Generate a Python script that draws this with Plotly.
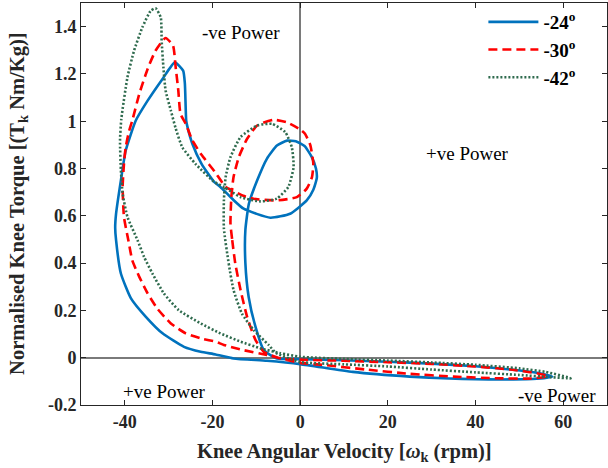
import plotly.graph_objects as go

# ---- data ----
series_names = ["<b>-24<sup>o</sup></b>", "<b>-30<sup>o</sup></b>", "<b>-42<sup>o</sup></b>"]

x_24 = [-12.5, -12.5, -11.75, -10.2, -8.3, -5.3,
        0, 10, 20, 30, 40, 48, 54, 57.5,
        54, 46, 40, 34, 25, 12, 0, -7.6, -15.2, -19.3, -22.7, -26.5, -31.4, -35.2, -38.6, -40.9, -42.0, -42.2, -42.0,
        -40.9, -39.8, -37.5, -34.8, -31.4, -28.6, -26.7, -26.3, -26.0, -25.7, -24.6, -22.5, -19.7, -18.2, -15.5, -12.9,
        -6.8, -2.3, 1.5, 3.0, 3.8, 3.6, 2.6, 1.0, -1.0, -3.0, -5.3, -7.6, -9.8, -11.7, -12.5]
y_24 = [0.54, 0.40, 0.257, 0.131, 0.032, -0.003,
        -0.006, -0.011, -0.017, -0.025, -0.036, -0.05, -0.064, -0.08,
        -0.089, -0.092, -0.091, -0.088, -0.08, -0.06, -0.027, -0.013, -0.003, 0.014, 0.025, 0.046, 0.103, 0.173, 0.251, 0.356, 0.497, 0.55, 0.609,
        0.75, 0.876, 1.003, 1.087, 1.179, 1.249, 1.214, 1.158, 1.003, 0.975, 0.905, 0.82, 0.745, 0.722, 0.672, 0.63,
        0.592, 0.609, 0.665, 0.71, 0.76, 0.80, 0.85, 0.895, 0.915, 0.918, 0.897, 0.841, 0.75, 0.651, 0.54]

x_30 = [-15.9, -15.5, -14.8, -13.6, -12.1, -10.2, -8.3, -4.5,
        0, 10, 20, 30, 40, 48, 54, 56.5,
        53, 45, 35, 25, 15, 5, 0, -3.0, -7.6, -12.9, -17.4, -19.3, -22.3, -26.1, -29.5, -32.6, -34.8, -36.7, -38.3, -39.2,
        -40.2, -40.5, -40.2, -39.8, -39.0, -38.3, -36.7, -34.8, -33.0, -30.7, -29.0, -28.4, -27.8, -27.3, -26.1, -24.6,
        -22.5, -19.5, -17.0, -15.5, -13.0, -10.6, -5.3, -0.75, 1.5, 2.7, 3.0, 2.3, 1.1, 0, -3.0, -6.1, -9.8, -12.1,
        -14.0, -15.2, -15.7, -15.9]
y_30 = [0.567, 0.497, 0.398, 0.286, 0.173, 0.075, 0.025, -0.003,
        -0.008, -0.013, -0.019, -0.026, -0.037, -0.05, -0.066, -0.078,
        -0.088, -0.087, -0.08, -0.068, -0.05, -0.03, -0.022, -0.01, 0.011, 0.032, 0.054, 0.068, 0.08, 0.103, 0.145, 0.208, 0.272, 0.342, 0.412, 0.497,
        0.595, 0.722, 0.82, 0.89, 0.961, 1.003, 1.116, 1.221, 1.298, 1.352, 1.319, 1.228, 1.13, 1.031, 0.989, 0.919,
        0.858, 0.787, 0.722, 0.708, 0.685, 0.672, 0.665, 0.679, 0.715, 0.764, 0.82, 0.9, 0.947, 0.965, 0.995, 1.006, 0.982, 0.926,
        0.848, 0.764, 0.679, 0.567]

x_42 = [-17.4, -16.3, -15.2, -13.3, -10.6, -7.2, -5.5,
        0, 10, 20, 30, 40, 50, 57, 61.7,
        56, 50, 40, 30, 20, 10, 0, -4.5, -9.1, -13.6, -18.2, -22.7, -27.7, -31.1, -33.7, -35.6, -37.1, -39.4,
        -40.5, -40.9, -41.1, -40.8, -39.4, -37.9, -36.0, -34.1, -33.0, -31.8, -31.6, -31.2, -30.7, -29.5, -28.4, -26.9,
        -23.9, -19.7, -17.4, -13.6, -9.1, -5.3, -2.7, -1.5, -1.9, -3.4, -6.4, -9.8, -13.6, -15.9, -17.0, -17.4, -17.4]
y_42 = [0.546, 0.398, 0.286, 0.187, 0.117, 0.054, 0.02,
        -0.018, -0.028, -0.037, -0.05, -0.062, -0.073, -0.082, -0.087,
        -0.06, -0.045, -0.03, -0.02, -0.012, -0.005, 0.004, 0.019, 0.04, 0.068, 0.103, 0.145, 0.201, 0.272, 0.356, 0.426, 0.497, 0.595,
        0.694, 0.792, 0.919, 1.01, 1.186, 1.298, 1.397, 1.467, 1.478, 1.439, 1.341, 1.228, 1.13, 1.045, 0.97, 0.89,
        0.82, 0.745, 0.722, 0.679, 0.661, 0.673, 0.722, 0.806, 0.89, 0.954, 0.989, 0.982, 0.933, 0.848, 0.764, 0.665, 0.546]

x_ticks = [-40, -20, 0, 20, 40, 60]
y_ticks = [-0.2, 0, 0.2, 0.4, 0.6, 0.8, 1.0, 1.2, 1.4]
y_tick_labels = ["-0.2", "0", "0.2", "0.4", "0.6", "0.8", "1", "1.2", "1.4"]

region_labels = ["-ve Power", "+ve Power", "+ve Power", "-ve Power"]
region_x = [-13.45, 38.2, -30.95, 58.7]
region_y = [1.375, 0.862, -0.141, -0.160]

FONT = "Liberation Serif, Times New Roman, serif"
TXT = "#262626"

fig = go.Figure()
fig.add_trace(go.Scatter(x=x_24, y=y_24, mode="lines", name=series_names[0],
                         line=dict(color="#0072BD", width=2.6, dash="solid", shape="spline", smoothing=0.5)))
fig.add_trace(go.Scatter(x=x_30, y=y_30, mode="lines", name=series_names[1],
                         line=dict(color="#FF0000", width=2.6, dash="9px,5px", shape="spline", smoothing=0.5)))
fig.add_trace(go.Scatter(x=x_42, y=y_42, mode="lines", name=series_names[2],
                         line=dict(color="#2F6B4E", width=2.6, dash="2px,2px", shape="spline", smoothing=0.5)))

for t, xx, yy in zip(region_labels, region_x, region_y):
    fig.add_annotation(x=xx, y=yy, text=t, showarrow=False,
                       font=dict(family=FONT, size=19, color="black"))

fig.add_annotation(xref="paper", yref="paper", x=0.5, y=-0.083, yanchor="top",
                   text="<b>Knee Angular Velocity [<i>ω</i><sub>k</sub> (rpm)]</b>",
                   showarrow=False, font=dict(family=FONT, size=20.5, color=TXT))
fig.add_annotation(xref="paper", yref="paper", x=-0.12, y=0.5, xanchor="center", yanchor="middle",
                   text="<b>Normalised Knee Torque [(T<sub>k</sub> Nm/Kg)]</b>", textangle=-90,
                   showarrow=False, font=dict(family=FONT, size=20.5, color=TXT))

axis_common = dict(showline=True, linecolor=TXT, linewidth=1, mirror="ticks",
                   ticks="inside", ticklen=5, tickcolor=TXT, showgrid=False,
                   zeroline=True, zerolinecolor="#7a7a7a", zerolinewidth=1.6,
                   tickfont=dict(family=FONT, size=18, color=TXT))

fig.update_xaxes(range=[-50, 70], tickvals=x_ticks, ticktext=[f"<b>{v}</b>" for v in x_ticks], **axis_common)
fig.update_yaxes(range=[-0.2, 1.5], tickvals=y_ticks, ticktext=[f"<b>{v}</b>" for v in y_tick_labels], **axis_common)

fig.update_layout(
    width=608, height=468,
    margin=dict(l=81, r=1, t=3, b=63),
    plot_bgcolor="white", paper_bgcolor="white",
    showlegend=True,
    legend=dict(x=0.765, y=1.0, xanchor="left", yanchor="top",
                bgcolor="rgba(255,255,255,0)", borderwidth=0,
                font=dict(family=FONT, size=19, color="black"),
                itemwidth=50, tracegroupgap=0),
)

fig.write_html("out.html", config={"displayModeBar": False},
               post_script="document.body.style.margin='0px';")
